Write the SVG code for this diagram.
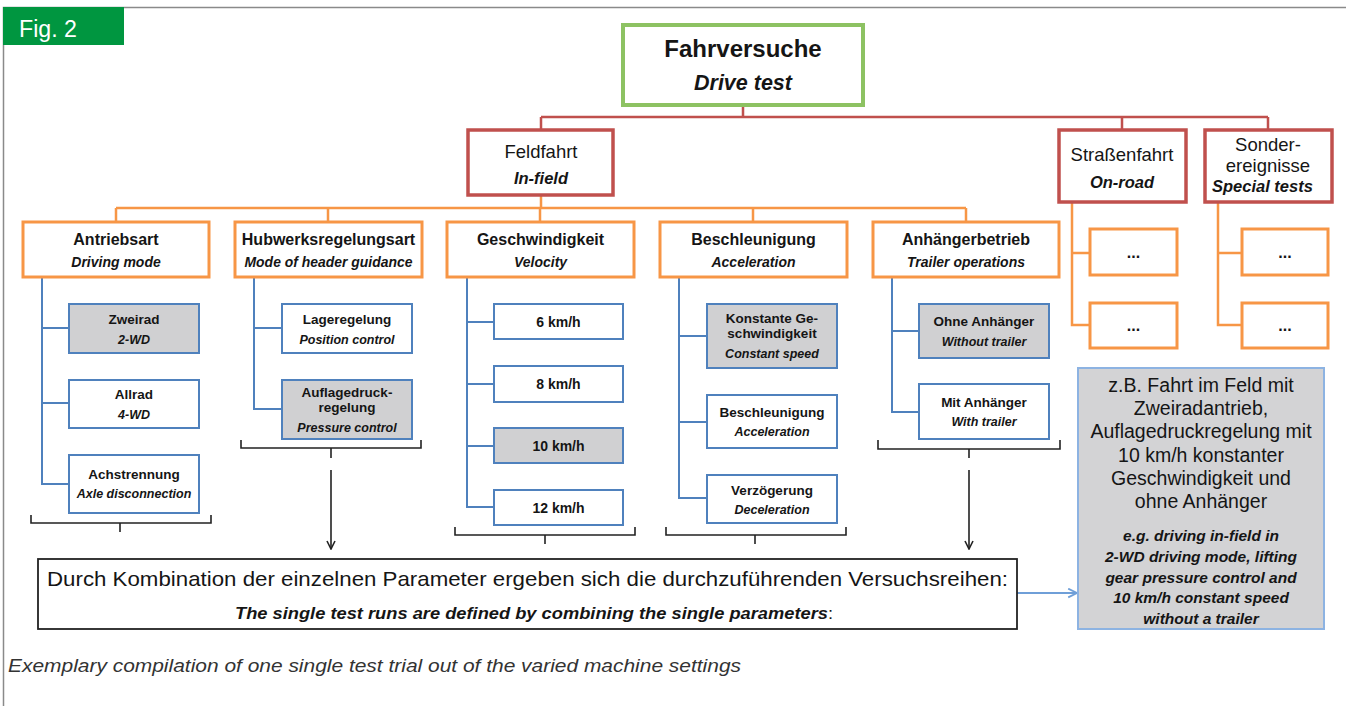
<svg xmlns="http://www.w3.org/2000/svg" width="1346" height="706" viewBox="0 0 1346 706">
<defs>
<style>
text{font-family:"Liberation Sans",Arial,sans-serif;fill:#151515;text-anchor:middle}
.frame{stroke:#8a8a8a;stroke-width:1.5;fill:none}
.gbox{fill:#fff;stroke:#8dc262;stroke-width:4}
.rbox{fill:#fff;stroke:#c0504d;stroke-width:3.5}
.obox{fill:#fff;stroke:#f79646;stroke-width:3}
.bbox{fill:#fff;stroke:#4f81bd;stroke-width:2}
.bsel{fill:#d0d0d2;stroke:#4f81bd;stroke-width:2}
.lr{stroke:#c0504d;stroke-width:2.5;fill:none}
.lo{stroke:#f79646;stroke-width:2.5;fill:none}
.lb{stroke:#4f81bd;stroke-width:2;fill:none}
.br{stroke:#222;stroke-width:1.6;fill:none}
.ar{stroke:#222;stroke-width:1.6;fill:none}
.h{font-weight:bold;font-size:16px}
.hi{font-weight:bold;font-style:italic;font-size:14px}
.s{font-weight:bold;font-size:13.5px}
.si{font-weight:bold;font-style:italic;font-size:12.5px}
.k{font-weight:bold;font-size:14px}
.dots{font-weight:bold;font-size:16px}
</style>
<marker id="ah" viewBox="0 0 10 10" refX="9" refY="5" markerWidth="10" markerHeight="10" markerUnits="userSpaceOnUse" orient="auto">
<path d="M1,1 L9,5 L1,9" fill="none" stroke="#222" stroke-width="1.6"/>
</marker>
<marker id="ahb" viewBox="0 0 10 10" refX="9" refY="5" markerWidth="11" markerHeight="11" markerUnits="userSpaceOnUse" orient="auto">
<path d="M1,1 L9,5 L1,9" fill="none" stroke="#6f9fd8" stroke-width="1.6"/>
</marker>
</defs>
<rect width="1346" height="706" fill="#fff"/>
<path class="frame" d="M3.5,706 L3.5,7.5 L1346,7.5"/>
<g id="figlabel">
<rect x="3" y="7" width="121" height="38" fill="#009640"/>
<text x="19" y="37" style="fill:#fff;font-size:23px;text-anchor:start" textLength="58" lengthAdjust="spacingAndGlyphs">Fig. 2</text>
</g>

<g id="connectors">
<path class="lr" d="M743,105 L743,117 M541,117 L1268,117 M541,117 L541,130 M1122,117 L1122,130 M1268,117 L1268,130"/>
<path class="lo" d="M541,195 L541,208 M116,208 L966,208 M116,208 L116,222 M328,208 L328,222 M540,208 L540,222 M753,208 L753,222 M966,208 L966,222"/>
<path class="lo" d="M1072,202 L1072,325 L1090,325 M1072,253 L1090,253 M1218,202 L1218,325 L1242,325 M1218,253 L1242,253"/>
<path class="lb" d="M42,277 L42,484 L69,484 M42,328 L69,328 M42,403 L69,403"/>
<path class="lb" d="M254,277 L254,409 L282,409 M254,328 L282,328"/>
<path class="lb" d="M467,277 L467,507 L494,507 M467,322 L494,322 M467,384 L494,384 M467,446 L494,446"/>
<path class="lb" d="M679,277 L679,498 L707,498 M679,336 L707,336 M679,422 L707,422"/>
<path class="lb" d="M892,277 L892,412 L919,412 M892,331 L919,331"/>
<path class="br" d="M31,515 L31,523 L211,523 L211,515 M120,523 L120,532"/>
<path class="br" d="M241,440 L241,448 L421,448 L421,440 M331,448 L331,458"/>
<path class="br" d="M455,527 L455,535 L635,535 L635,527 M545,535 L545,544"/>
<path class="br" d="M666,527 L666,535 L846,535 L846,527 M755,535 L755,544"/>
<path class="br" d="M878,440 L878,449 L1060,449 L1060,440 M969,449 L969,458"/>
<path class="ar" d="M331,470 L331,549" marker-end="url(#ah)"/>
<path class="ar" d="M969,470 L969,549" marker-end="url(#ah)"/>
<path d="M1017,593 L1077,593" stroke="#6f9fd8" stroke-width="1.8" fill="none" marker-end="url(#ahb)"/>
</g>

<g id="fahrversuche">
<rect class="gbox" x="623" y="25" width="240" height="80"/>
<text x="743" y="57" style="font-weight:bold;font-size:24px">Fahrversuche</text>
<text x="743" y="90" style="font-weight:bold;font-style:italic;font-size:21.5px">Drive test</text>
</g>
<g id="feldfahrt">
<rect class="rbox" x="468" y="130" width="145" height="65"/>
<text x="541" y="158" style="font-size:18.5px">Feldfahrt</text>
<text x="541" y="184" style="font-weight:bold;font-style:italic;font-size:16.5px">In-field</text>
</g>
<g id="strassenfahrt">
<rect class="rbox" x="1059" y="130" width="127" height="72"/>
<text x="1122" y="161" style="font-size:18.5px">Straßenfahrt</text>
<text x="1122" y="188" style="font-weight:bold;font-style:italic;font-size:16.5px">On-road</text>
</g>
<g id="sonderereignisse">
<rect class="rbox" x="1205" y="130" width="127" height="72"/>
<text x="1268" y="151" style="font-size:18.5px">Sonder-</text>
<text x="1268" y="172" style="font-size:18.5px">ereignisse</text>
<text x="1212" y="192" style="font-weight:bold;font-style:italic;font-size:16.5px;text-anchor:start">Special tests</text>
</g>

<g id="antriebsart">
<rect class="obox" x="23" y="222" width="186" height="55"/>
<text class="h" x="116" y="245">Antriebsart</text>
<text class="hi" x="116" y="267">Driving mode</text>
</g>
<g id="hubwerk">
<rect class="obox" x="235" y="222" width="187" height="55"/>
<text class="h" x="328.5" y="245">Hubwerksregelungsart</text>
<text class="hi" x="328.5" y="267" textLength="168" lengthAdjust="spacingAndGlyphs">Mode of header guidance</text>
</g>
<g id="geschwindigkeit">
<rect class="obox" x="447" y="222" width="187" height="55"/>
<text class="h" x="540.5" y="245">Geschwindigkeit</text>
<text class="hi" x="540.5" y="267">Velocity</text>
</g>
<g id="beschleunigung">
<rect class="obox" x="660" y="222" width="187" height="55"/>
<text class="h" x="753.5" y="245">Beschleunigung</text>
<text class="hi" x="753.5" y="267">Acceleration</text>
</g>
<g id="anhaenger">
<rect class="obox" x="873" y="222" width="186" height="55"/>
<text class="h" x="966" y="245">Anhängerbetrieb</text>
<text class="hi" x="966" y="267">Trailer operations</text>
</g>

<g id="strasse-1"><rect class="obox" x="1090" y="229" width="87" height="46"/><text class="dots" x="1133.5" y="258">...</text></g>
<g id="strasse-2"><rect class="obox" x="1090" y="303" width="87" height="45"/><text class="dots" x="1133.5" y="331">...</text></g>
<g id="sonder-1"><rect class="obox" x="1242" y="229" width="86" height="46"/><text class="dots" x="1285" y="258">...</text></g>
<g id="sonder-2"><rect class="obox" x="1242" y="303" width="86" height="45"/><text class="dots" x="1285" y="331">...</text></g>

<g id="zweirad"><rect class="bsel" x="69" y="304" width="130" height="49"/><text class="s" x="134" y="324">Zweirad</text><text class="si" x="134" y="344">2-WD</text></g>
<g id="allrad"><rect class="bbox" x="69" y="380" width="130" height="48"/><text class="s" x="134" y="399">Allrad</text><text class="si" x="134" y="419">4-WD</text></g>
<g id="achstrennung"><rect class="bbox" x="69" y="455" width="130" height="58"/><text class="s" x="134" y="479">Achstrennung</text><text class="si" x="134" y="498">Axle disconnection</text></g>

<g id="lageregelung"><rect class="bbox" x="282" y="304" width="130" height="49"/><text class="s" x="347" y="324">Lageregelung</text><text class="si" x="347" y="344">Position control</text></g>
<g id="auflagedruck"><rect class="bsel" x="282" y="380" width="130" height="59"/><text class="s" x="347" y="397">Auflagedruck-</text><text class="s" x="347" y="412">regelung</text><text class="si" x="347" y="432">Pressure control</text></g>

<g id="v6"><rect class="bbox" x="494" y="304" width="129" height="35"/><text class="k" x="558.5" y="327">6 km/h</text></g>
<g id="v8"><rect class="bbox" x="494" y="366" width="129" height="36"/><text class="k" x="558.5" y="389">8 km/h</text></g>
<g id="v10"><rect class="bsel" x="494" y="428" width="129" height="35"/><text class="k" x="558.5" y="451">10 km/h</text></g>
<g id="v12"><rect class="bbox" x="494" y="490" width="129" height="35"/><text class="k" x="558.5" y="513">12 km/h</text></g>

<g id="konstant"><rect class="bsel" x="707" y="304" width="130" height="64"/><text class="s" x="772" y="323">Konstante Ge-</text><text class="s" x="772" y="338">schwindigkeit</text><text class="si" x="772" y="358">Constant speed</text></g>
<g id="beschl-sub"><rect class="bbox" x="707" y="395" width="130" height="53"/><text class="s" x="772" y="417">Beschleunigung</text><text class="si" x="772" y="436">Acceleration</text></g>
<g id="verzoegerung"><rect class="bbox" x="707" y="475" width="130" height="48"/><text class="s" x="772" y="495">Verzögerung</text><text class="si" x="772" y="514">Deceleration</text></g>

<g id="ohne"><rect class="bsel" x="919" y="304" width="130" height="54"/><text class="s" x="984" y="326">Ohne Anhänger</text><text class="si" x="984" y="346">Without trailer</text></g>
<g id="mit"><rect class="bbox" x="919" y="384" width="130" height="55"/><text class="s" x="984" y="407">Mit Anhänger</text><text class="si" x="984" y="426">With trailer</text></g>

<g id="kombination">
<rect x="38" y="559" width="979" height="70" fill="#fff" stroke="#222" stroke-width="1.8"/>
<text x="47" y="586" style="font-size:21px;text-anchor:start" textLength="961" lengthAdjust="spacingAndGlyphs">Durch Kombination der einzelnen Parameter ergeben sich die durchzuführenden Versuchsreihen:</text>
<text x="235" y="619" style="font-weight:bold;font-style:italic;font-size:17px;text-anchor:start" textLength="598" lengthAdjust="spacingAndGlyphs">The single test runs are defined by combining the single <tspan>parameters</tspan><tspan style="font-weight:normal;font-style:normal">:</tspan></text>
</g>

<g id="beispiel">
<rect x="1078" y="368" width="246" height="261" fill="#d3d3d5" stroke="#8db3e2" stroke-width="2"/>
<g style="font-size:19.5px">
<text x="1201" y="392">z.B. Fahrt im Feld mit</text>
<text x="1201" y="415">Zweiradantrieb,</text>
<text x="1201" y="438">Auflagedruckregelung mit</text>
<text x="1201" y="462">10 km/h konstanter</text>
<text x="1201" y="485">Geschwindigkeit und</text>
<text x="1201" y="508">ohne Anhänger</text>
</g>
<g style="font-weight:bold;font-style:italic;font-size:15.5px">
<text x="1201" y="541">e.g. driving in-field in</text>
<text x="1201" y="562">2-WD driving mode, lifting</text>
<text x="1201" y="583">gear pressure control and</text>
<text x="1201" y="603">10 km/h constant speed</text>
<text x="1201" y="624">without a trailer</text>
</g>
</g>

<text x="8" y="672" style="font-style:italic;font-size:18.5px;fill:#333;text-anchor:start" textLength="733" lengthAdjust="spacingAndGlyphs">Exemplary compilation of one single test trial out of the varied machine settings</text>
</svg>
